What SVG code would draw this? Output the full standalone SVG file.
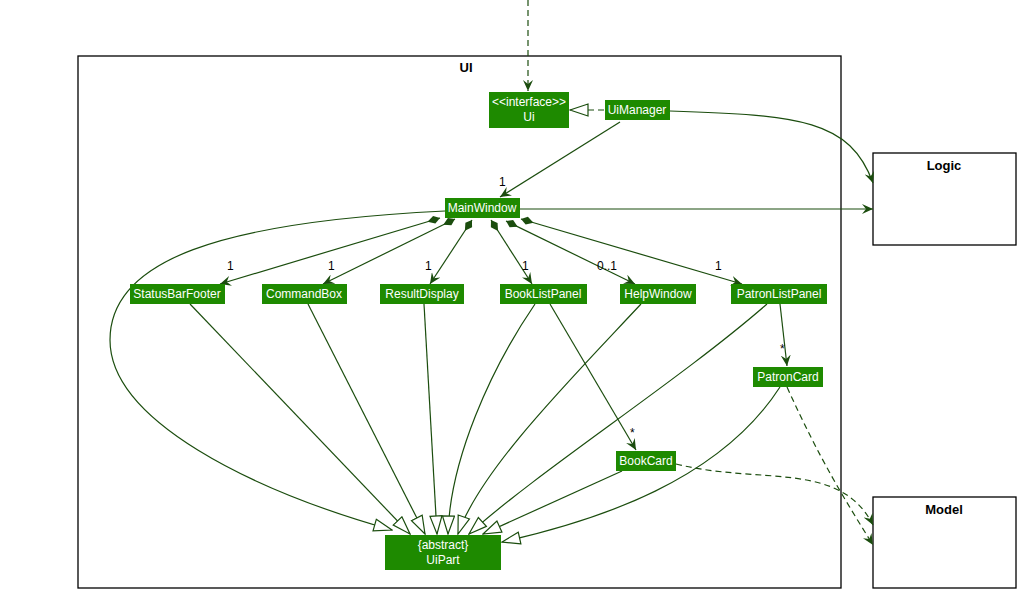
<svg xmlns="http://www.w3.org/2000/svg" width="1025" height="594" viewBox="0 0 1025 594">
<style>
.n{fill:#1e8a00}
.t{fill:#fff;font-family:"Liberation Sans",Arial,sans-serif;font-size:12px;text-anchor:middle}
.e{fill:none;stroke:#1b4d0e;stroke-width:1.2}
.d{stroke-dasharray:6,4}
.l{font-family:"Liberation Sans",Arial,sans-serif;font-size:12px;fill:#000}
.b{font-family:"Liberation Sans",Arial,sans-serif;font-size:13px;font-weight:bold;fill:#000;text-anchor:middle}
.p{fill:#fff;stroke:#000;stroke-width:1.3}
</style>
<defs>
<marker id="a" viewBox="0 0 12 10" refX="11" refY="5" markerWidth="12" markerHeight="10" orient="auto" markerUnits="userSpaceOnUse"><path d="M0,0 L11,5 L0,10 L4,5 Z" fill="#1b4d0e"/></marker>
<marker id="g" viewBox="0 0 20 14" refX="19" refY="7" markerWidth="20" markerHeight="14" orient="auto" markerUnits="userSpaceOnUse"><path d="M1,1 L19,7 L1,13 Z" fill="#fff" stroke="#1b4d0e" stroke-width="1.2"/></marker>
<marker id="c" viewBox="0 0 16 10" refX="1" refY="5" markerWidth="16" markerHeight="10" orient="auto" markerUnits="userSpaceOnUse"><path d="M1,5 L7,1 L14,5 L7,9 Z" fill="#1b4d0e"/></marker>
</defs>
<rect class="p" x="78" y="56" width="763" height="532"/>
<text class="b" x="466" y="72">UI</text>
<g id="Logic"><rect class="p" x="873" y="153" width="143" height="92"/><text class="b" x="944" y="170">Logic</text></g>
<g id="Model"><rect class="p" x="873" y="497" width="143" height="91"/><text class="b" x="944" y="514">Model</text></g>
<g id="connectors">
<path class="e d" d="M528,0 L528,91" marker-end="url(#a)"/>
<path class="e d" d="M604,110 L570,110" marker-end="url(#g)"/>
<path class="e" d="M670,111 C800,115 850,120 873,183" marker-end="url(#a)"/>
<path class="e" d="M520,209 L873,209" marker-end="url(#a)"/>
<path class="e" d="M620,122 L500,197" marker-end="url(#a)"/>
<path class="e" d="M440,218 L220,284" marker-start="url(#c)" marker-end="url(#a)"/>
<path class="e" d="M455,219 L323,284" marker-start="url(#c)" marker-end="url(#a)"/>
<path class="e" d="M472,220 L430,284" marker-start="url(#c)" marker-end="url(#a)"/>
<path class="e" d="M491,220 L532,284" marker-start="url(#c)" marker-end="url(#a)"/>
<path class="e" d="M506,221 L635,284" marker-start="url(#c)" marker-end="url(#a)"/>
<path class="e" d="M521,219 L742,284" marker-start="url(#c)" marker-end="url(#a)"/>
<path class="e" d="M445,211 C220,222 110,260 110,340 C110,420 250,490 392,530" marker-end="url(#g)"/>
<path class="e" d="M190,304 L410,534" marker-end="url(#g)"/>
<path class="e" d="M308,304 L425,534" marker-end="url(#g)"/>
<path class="e" d="M424,304 L437,534" marker-end="url(#g)"/>
<path class="e" d="M535,304 C490,370 450,460 448,534" marker-end="url(#g)"/>
<path class="e" d="M641,304 C570,380 480,470 458,534" marker-end="url(#g)"/>
<path class="e" d="M767,304 C680,380 540,470 469,534" marker-end="url(#g)"/>
<path class="e" d="M622,471 L483,534" marker-end="url(#g)"/>
<path class="e" d="M780,387 C720,480 600,520 502,542" marker-end="url(#g)"/>
<path class="e" d="M550,304 L636,450" marker-end="url(#a)"/>
<path class="e" d="M780,304 L787,366" marker-end="url(#a)"/>
<path class="e d" d="M676,464 C760,485 840,460 873,525" marker-end="url(#a)"/>
<path class="e d" d="M787,387 C820,460 845,500 873,545" marker-end="url(#a)"/>
</g>
<g id="labels">
<text class="l" x="499" y="186">1</text>
<text class="l" x="227" y="270">1</text>
<text class="l" x="328" y="270">1</text>
<text class="l" x="425" y="270">1</text>
<text class="l" x="522" y="270">1</text>
<text class="l" x="597" y="270">0..1</text>
<text class="l" x="715" y="270">1</text>
<text class="l" x="780" y="353">*</text>
<text class="l" x="630" y="437">*</text>
</g>
<g id="Ui"><rect class="n" x="489" y="92" width="80" height="36"/><text class="t" x="529" y="106">&lt;&lt;interface&gt;&gt;</text><text class="t" x="529" y="121">Ui</text></g>
<g id="UiManager"><rect class="n" x="605" y="100" width="65" height="20"/><text class="t" x="637" y="114">UiManager</text></g>
<g id="MainWindow"><rect class="n" x="445" y="198" width="75" height="20"/><text class="t" x="482" y="212">MainWindow</text></g>
<g id="StatusBarFooter"><rect class="n" x="130" y="284" width="95" height="20"/><text class="t" x="177" y="298">StatusBarFooter</text></g>
<g id="CommandBox"><rect class="n" x="262" y="284" width="85" height="20"/><text class="t" x="304" y="298">CommandBox</text></g>
<g id="ResultDisplay"><rect class="n" x="380" y="284" width="84" height="20"/><text class="t" x="422" y="298">ResultDisplay</text></g>
<g id="BookListPanel"><rect class="n" x="500" y="284" width="87" height="20"/><text class="t" x="543" y="298">BookListPanel</text></g>
<g id="HelpWindow"><rect class="n" x="620" y="284" width="76" height="20"/><text class="t" x="658" y="298">HelpWindow</text></g>
<g id="PatronListPanel"><rect class="n" x="731" y="284" width="96" height="20"/><text class="t" x="779" y="298">PatronListPanel</text></g>
<g id="PatronCard"><rect class="n" x="753" y="367" width="70" height="20"/><text class="t" x="788" y="381">PatronCard</text></g>
<g id="BookCard"><rect class="n" x="616" y="451" width="60" height="20"/><text class="t" x="646" y="465">BookCard</text></g>
<g id="UiPart"><rect class="n" x="385" y="535" width="116" height="35"/><text class="t" x="443" y="549">{abstract}</text><text class="t" x="443" y="564">UiPart</text></g>
</svg>
